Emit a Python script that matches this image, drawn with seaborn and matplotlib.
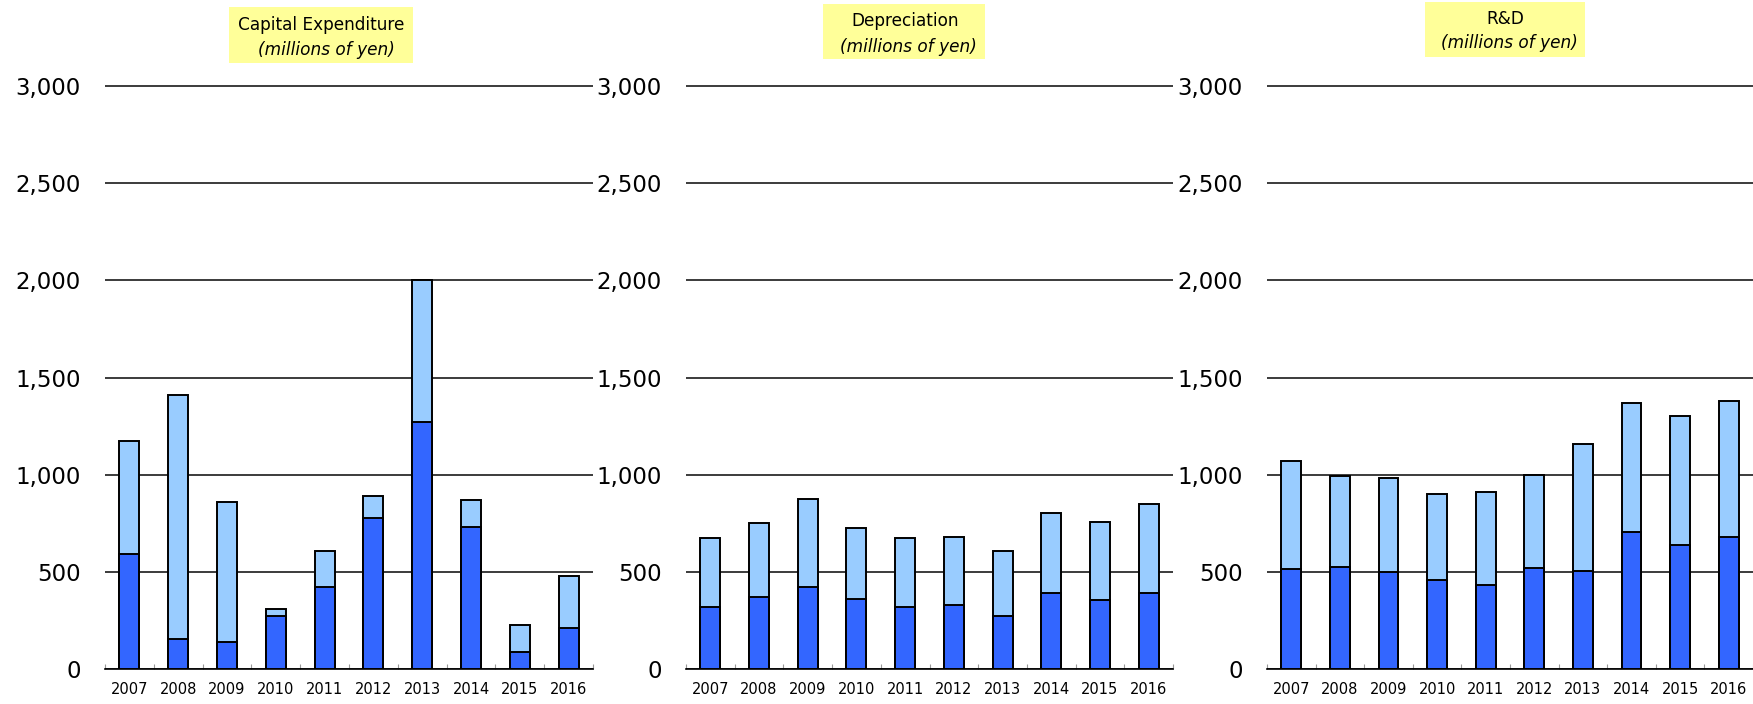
import numpy as np
import pandas as pd
import matplotlib
matplotlib.use("Agg")
import matplotlib.pyplot as plt
import seaborn as sns
from matplotlib.patches import Rectangle
from matplotlib.ticker import FuncFormatter, FixedLocator

# Fiscal years shown on every panel
years = [str(y) for y in range(2007, 2017)]

# Capital expenditure (millions of yen): lower and upper stacked segments
capex_lower = [591, 154, 141, 274, 425, 780, 1273, 733, 89, 212]
capex_upper = [585, 1256, 719, 34, 183, 111, 727, 139, 141, 266]

# Depreciation (millions of yen)
dep_lower = [322, 371, 422, 359, 320, 332, 276, 390, 358, 392]
dep_upper = [351, 382, 454, 370, 355, 349, 332, 414, 402, 460]

# R&D (millions of yen)
rd_lower = [516, 525, 499, 457, 433, 522, 506, 704, 639, 678]
rd_upper = [554, 469, 484, 446, 480, 477, 651, 666, 663, 702]

titles = ["Capital Expenditure", "Depreciation", "R&D"]
subtitle = "(millions of yen)"
y_ticks = [0, 500, 1000, 1500, 2000, 2500, 3000]

DARK = "#3366FF"
LIGHT = "#99CCFF"
YELLOW = "#FFFF99"

sns.set_theme(style="white")
plt.rcParams["font.family"] = ["DejaVu Sans"]

W, H = 1753, 704
fig = plt.figure(figsize=(W / 100, H / 100), dpi=100)

# pixel layout of the three panels
y_zero, y_3000 = 669.3, 86.0
px_per_unit = (y_zero - y_3000) / 3000
y_max = 3015
top_px = y_zero - y_max * px_per_unit

layout = [
    dict(left=105, right=593, box=(229, 413, 7, 63), l1=(321, 25), l2=(326, 50)),
    dict(left=686, right=1173, box=(823, 985, 4, 59), l1=(905, 21), l2=(908, 47)),
    dict(left=1267, right=1753, box=(1425, 1585, 2, 57), l1=(1505, 19), l2=(1509, 43)),
]
series = [(capex_lower, capex_upper), (dep_lower, dep_upper), (rd_lower, rd_upper)]

for title, (lower, upper), lay in zip(titles, series, layout):
    ax = fig.add_axes([lay["left"] / W, 1 - y_zero / H,
                       (lay["right"] - lay["left"]) / W, (y_zero - top_px) / H])
    df = pd.DataFrame({"year": years, "lower": lower, "upper": upper})
    df["total"] = df["lower"] + df["upper"]

    sns.barplot(data=df, x="year", y="total", color=LIGHT, saturation=1,
                edgecolor="black", linewidth=1.4, width=0.41, errorbar=None, ax=ax)
    sns.barplot(data=df, x="year", y="lower", color=DARK, saturation=1,
                edgecolor="black", linewidth=1.4, width=0.41, errorbar=None, ax=ax)

    ax.set_xlim(-0.5, len(years) - 0.5)
    ax.set_ylim(0, y_max)
    ax.set_yticks(y_ticks)
    ax.yaxis.set_major_formatter(FuncFormatter(lambda v, p: f"{int(v):,}"))
    ax.yaxis.grid(True, color="#1a1a1a", linewidth=1.2)
    ax.xaxis.grid(False)
    ax.set_axisbelow(True)
    ax.set_xlabel("")
    ax.set_ylabel("")

    for side in ("left", "right", "top"):
        ax.spines[side].set_visible(False)
    ax.spines["bottom"].set_color("black")
    ax.spines["bottom"].set_linewidth(1.2)

    ax.xaxis.set_minor_locator(FixedLocator(np.arange(-0.5, len(years), 1.0)))
    ax.tick_params(axis="x", which="minor", direction="in", length=3.6,
                   width=0.8, color="#999999", bottom=True)
    ax.tick_params(axis="x", which="major", length=0, pad=9.5,
                   labelsize=10.5, labelcolor="black")
    ax.tick_params(axis="y", length=0, pad=17.5, labelsize=16.5, labelcolor="black")

    # yellow title box with two lines
    x0, x1, t0, t1 = lay["box"]
    fig.add_artist(Rectangle((x0 / W, 1 - t1 / H), (x1 - x0) / W, (t1 - t0) / H,
                             transform=fig.transFigure, facecolor=YELLOW,
                             edgecolor="none", zorder=1))
    fig.text(lay["l1"][0] / W, 1 - lay["l1"][1] / H, title, ha="center",
             va="center", fontsize=12.2, color="black", zorder=2)
    fig.text(lay["l2"][0] / W, 1 - lay["l2"][1] / H, subtitle, ha="center",
             va="center", fontsize=12.2, style="italic", color="black", zorder=2)

fig.savefig("out.png", dpi=100)
